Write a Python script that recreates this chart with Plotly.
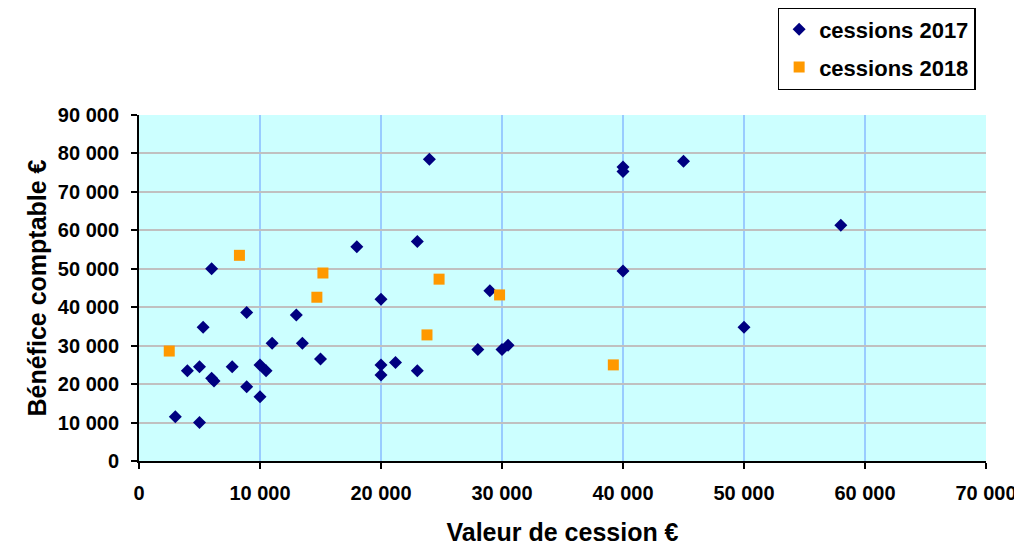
import plotly.graph_objects as go

# Data
x2017 = [3000, 5000, 4000, 5000, 5300, 6000, 6000, 6200, 7700, 8900, 8900,
         10000, 10000, 10500, 11000, 13000, 13500, 15000, 18000, 20000, 20000,
         20000, 21200, 23000, 23000, 24000, 28000, 29000, 30000, 30500,
         40000, 40000, 40000, 45000, 50000, 58000]
y2017 = [11500, 10000, 23500, 24500, 34800, 50000, 21500, 20800, 24500, 38600, 19300,
         16700, 25000, 23500, 30600, 38000, 30600, 26500, 55700, 42100, 25000,
         22400, 25600, 57100, 23500, 78500, 29000, 44300, 29000, 30100,
         76500, 75300, 49400, 78000, 34800, 61300]

x2018 = [2500, 8300, 14700, 15200, 23800, 24800, 29800, 39200]
y2018 = [28600, 53500, 42600, 48900, 32800, 47300, 43200, 25000]

series_names = ["cessions 2017", "cessions 2018"]
x_title = "Valeur de cession €"
y_title = "Bénéfice comptable €"

FONT = "Liberation Sans, Arial, sans-serif"

fig = go.Figure()
fig.add_trace(go.Scatter(
    x=x2017, y=y2017, mode="markers", name=series_names[0], legendgroup="a",
    marker=dict(symbol="diamond", size=10, color="#000080", line=dict(width=0)),
))
fig.add_trace(go.Scatter(
    x=x2018, y=y2018, mode="markers", name=series_names[1], legendgroup="b",
    marker=dict(symbol="square", size=11, color="#FF9900", line=dict(width=0)),
))

fig.update_layout(
    width=1022, height=548,
    margin=dict(l=131, r=44, t=107, b=95, autoexpand=False),
    paper_bgcolor="white",
    plot_bgcolor="#CCFFFF",
    separators=", ",
    font=dict(family=FONT, color="black"),
    showlegend=True,
    legend=dict(
        x=0.754, y=1.312, xanchor="left", yanchor="top",
        bgcolor="white", bordercolor="black", borderwidth=1.5,
        font=dict(family=FONT, size=22, weight="bold", color="black"),
        tracegroupgap=6,
    ),
    xaxis=dict(
        range=[0, 70000], dtick=10000, tick0=0, tickformat=",d",
        showgrid=True, gridcolor="#99CCFF", gridwidth=2,
        showline=True, linecolor="black", linewidth=2,
        ticks="outside", ticklen=6, tickwidth=1.5, tickcolor="black",
        tickfont=dict(family=FONT, size=20, weight="bold"),
        ticklabelstandoff=7,
        zeroline=False,
        title=dict(text=x_title, standoff=20,
                   font=dict(family=FONT, size=25, weight="bold")),
    ),
    yaxis=dict(
        range=[0, 90000], dtick=10000, tick0=0, tickformat=",d",
        showgrid=True, gridcolor="#C0C0C0", gridwidth=2,
        showline=True, linecolor="black", linewidth=2,
        ticks="outside", ticklen=6, tickwidth=1.5, tickcolor="black",
        tickfont=dict(family=FONT, size=20, weight="bold"),
        ticklabelstandoff=8,
        zeroline=False,
        title=dict(text=y_title, standoff=4,
                   font=dict(family=FONT, size=25, weight="bold")),
    ),
)

fig.write_html("out.html")
